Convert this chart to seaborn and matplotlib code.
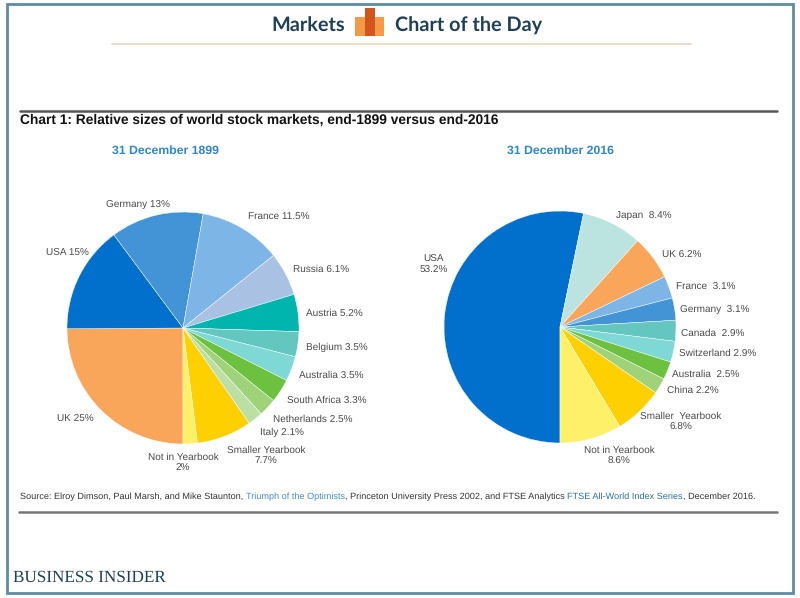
import matplotlib
matplotlib.use('Agg')
import matplotlib.pyplot as plt
from matplotlib.patches import Rectangle
import seaborn as sns

sns.set_theme(style='white')
plt.rcParams['font.family'] = ['Liberation Sans', 'DejaVu Sans']
plt.rcParams['text.hinting'] = 'no_hinting'

W, H = 800, 598
RADIUS = 116

# Data
LABELS_1899 = ['UK 25%', 'USA 15%', 'Germany 13%', 'France 11.5%', 'Russia 6.1%',
               'Austria 5.2%', 'Belgium 3.5%', 'Australia 3.5%', 'South Africa 3.3%',
               'Netherlands 2.5%', 'Italy 2.1%', 'Smaller Yearbook\n7.7%',
               'Not in Yearbook\n2%']
VALUES_1899 = [25, 15, 13, 11.5, 6.1, 5.2, 3.5, 3.5, 3.3, 2.5, 2.1, 7.7, 2]
COLORS_1899 = ['#F9A65B', '#0070CC', '#4394D6', '#7DB6E6', '#A9C2E4', '#00B5AD',
               '#63C7BF', '#7ED8D6', '#6CC13F', '#A0D27A', '#BCDFA5', '#FFD000',
               '#FFF06A']

LABELS_2016 = ['USA\n53.2%', 'Japan  8.4%', 'UK 6.2%', 'France  3.1%', 'Germany  3.1%',
               'Canada  2.9%', 'Switzerland 2.9%', 'Australia  2.5%', 'China 2.2%',
               'Smaller  Yearbook\n6.8%', 'Not in Yearbook\n8.6%']
VALUES_2016 = [53.2, 8.4, 6.2, 3.1, 3.1, 2.9, 2.9, 2.5, 2.2, 6.8, 8.6]
COLORS_2016 = ['#0070CC', '#BBE3E0', '#F9A65B', '#7DB6E6', '#4394D6', '#63C7BF',
               '#7ED8D6', '#6CC13F', '#A0D27A', '#FFD000', '#FFF06A']

# label centres in pixels
POS_1899 = [(75, 419), (67, 253), (138, 205), (279, 217), (321, 269), (334, 313),
            (337, 347), (331, 375), (327, 400), (313, 419), (282, 432), (266, 456),
            (183, 463)]
POS_2016 = [(434, 265), (644, 216), (682, 255), (706, 287), (715, 310), (713, 333),
            (718, 353), (706, 374), (693, 390), (681, 422), (619, 456)]


def draw_pie(fig, cx, cy, values, colors, labels, positions, canvas):
    ax = fig.add_axes([(cx - RADIUS) / W, 1 - (cy + RADIUS) / H,
                       2 * RADIUS / W, 2 * RADIUS / H])
    # starts at 6 o'clock and runs clockwise
    ax.pie(values, colors=colors, startangle=270, counterclock=False, radius=1,
           wedgeprops=dict(edgecolor='white', linewidth=0.3))
    ax.set_xlim(-1, 1)
    ax.set_ylim(-1, 1)
    for lab, (x, y) in zip(labels, positions):
        canvas.text(x, y, lab, ha='center', va='center', fontsize=7.2,
                    color='#4a4a4a', linespacing=1.25, zorder=5)


fig = plt.figure(figsize=(W / 100, H / 100), dpi=100, facecolor='white')
canvas = fig.add_axes([0, 0, 1, 1])
canvas.set_xlim(0, W)
canvas.set_ylim(H, 0)
canvas.axis('off')

# outer frame
canvas.add_patch(Rectangle((7, 4), 786, 589, fill=False, edgecolor='#5F8CA3', linewidth=2))

# header
canvas.text(271, 26, 'Markets', fontsize=14.3, fontweight='bold', family=['Lato'],
            color='#1F3F57', ha='left', va='center')
canvas.text(395, 26, 'Chart of the Day', fontsize=14.3, fontweight='bold', family=['Lato'],
            color='#1F3F57', ha='left', va='center')
canvas.add_patch(Rectangle((355, 17), 29, 19, color='#F29A45', linewidth=0))
canvas.add_patch(Rectangle((365, 8), 10, 28, color='#D2551F', linewidth=0))
canvas.plot([112, 691], [44, 44], color='#F0D5C5', linewidth=1.3)

# chart title and rules
canvas.plot([20, 777], [111, 111], color='#555555', linewidth=1.8)
canvas.text(20, 120, 'Chart 1: Relative sizes of world stock markets, end-1899 versus end-2016',
            fontsize=9.9, fontweight='bold', color='#111111', ha='left', va='center')
canvas.text(165, 151, '31 December 1899', fontsize=8.8, fontweight='bold',
            color='#2F86C9', ha='center', va='center')
canvas.text(560, 151, '31 December 2016', fontsize=8.8, fontweight='bold',
            color='#2F86C9', ha='center', va='center')

draw_pie(fig, 183, 328, VALUES_1899, COLORS_1899, LABELS_1899, POS_1899, canvas)
draw_pie(fig, 560, 327, VALUES_2016, COLORS_2016, LABELS_2016, POS_2016, canvas)

# source line, pieces chained so the colours line up
pieces = [('Source: Elroy Dimson, Paul Marsh, and Mike Staunton, ', '#333333'),
          ('Triumph of the Optimists', '#3F8CCB'),
          (', Princeton University Press 2002, and FTSE Analytics ', '#333333'),
          ('FTSE All-World Index Series', '#2A6FA8'),
          (', December 2016.', '#333333')]
prev = canvas.text(20, 497, pieces[0][0], fontsize=6.55, color=pieces[0][1],
                   ha='left', va='center')
for txt, col in pieces[1:]:
    prev = canvas.annotate(txt, xy=(1, 0.5), xycoords=prev, fontsize=6.55, color=col,
                           ha='left', va='center')
canvas.plot([19, 777], [512, 512], color='#777777', linewidth=1.8)

canvas.text(13, 578, 'BUSINESS INSIDER', family=['Liberation Serif'], fontsize=12.3,
            color='#1F3F57', ha='left', va='center')

fig.savefig('out.png', dpi=100)
